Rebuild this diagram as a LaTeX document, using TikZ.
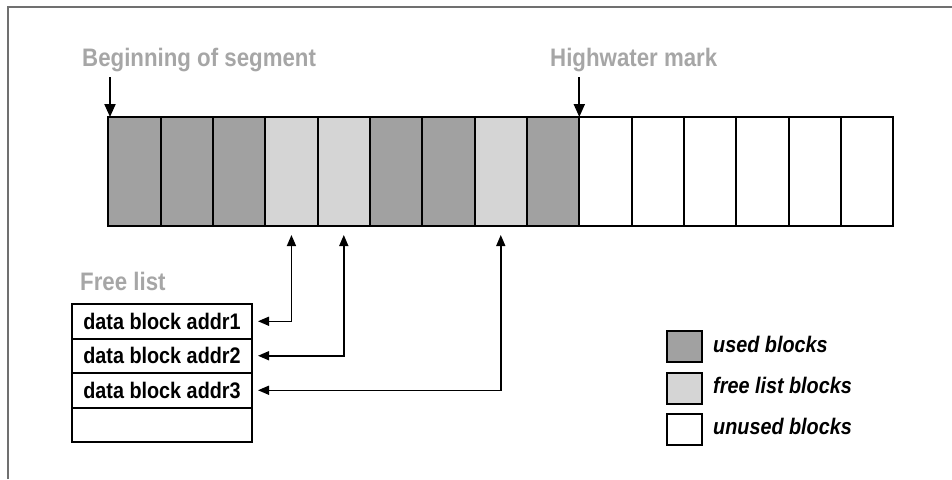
\documentclass[tikz,border=0pt]{standalone}
\usepackage{fontspec}
\usetikzlibrary{arrows.meta}
\newfontfamily\cond{Liberation Sans}[FakeStretch=0.88]
\definecolor{usedgray}{HTML}{A1A1A1}
\definecolor{freegray}{HTML}{D5D5D5}
\definecolor{labelgray}{HTML}{A6A6A6}
\definecolor{framegray}{HTML}{707070}
\begin{document}
\begin{tikzpicture}[x=1pt,y=-1pt,
  blk/.style={draw=black, line width=2pt, minimum width=52.33pt, minimum height=109pt,
    inner sep=0pt, outer sep=0pt, anchor=north west},
  used/.style={blk, fill=usedgray},
  freeb/.style={blk, fill=freegray},
  unused/.style={blk, fill=white},
  heading/.style={anchor=base west, inner sep=0pt, text=labelgray,
    font=\cond\bfseries\fontsize{25.3}{28}\selectfont},
  listrow/.style={draw=black, line width=2pt, minimum width=180pt, minimum height=34.5pt,
    inner sep=0pt, outer sep=0pt, anchor=north west,
    font=\cond\bfseries\fontsize{22.5}{25}\selectfont},
  keybox/.style={draw=black, line width=2pt, minimum width=35pt, minimum height=31pt,
    inner sep=0pt, outer sep=0pt, anchor=north west},
  keytext/.style={anchor=base west, inner sep=0pt,
    font=\cond\bfseries\itshape\fontsize{22.5}{25}\selectfont},
  marker/.style={line width=2pt, -{Triangle[length=13pt,width=11pt]}},
  link/.style={line width=1.5pt, {Triangle[length=11pt,width=9pt]}-{Triangle[length=11pt,width=9pt]}}
]
\useasboundingbox (0,0) rectangle (952,479);

% frame
\draw[framegray, line width=1.5pt] (8,479) -- (8,7) -- (952,7);

% segment blocks
\foreach \t [count=\i] in {used,used,used,freeb,freeb,used,used,freeb,used,
                          unused,unused,unused,unused,unused,unused}
  \node[\t] (b\i) at ({108.3+(\i-1)*52.33},117) {};

% headings and markers
\node[heading] (begin) at (82,66) {Beginning of segment};
\node[heading] (hwm) at (550,66) {Highwater mark};
\coordinate (segtop) at (110,77);
\coordinate (hwtop) at (579.3,77);
\draw[marker] (segtop) -- (segtop |- b1.north west);
\draw[marker] (hwtop) -- (hwtop |- b10.north west);

% free list
\node[heading] (fl) at (80,290) {Free list};
\node[listrow] (r1) at (72,304)   {data block addr1};
\node[listrow] (r2) at (72,338.5) {data block addr2};
\node[listrow] (r3) at (72,373)   {data block addr3};
\node[listrow] (r4) at (72,407.5) {};

% free list pointers
\draw[link] ([xshift=6pt]r1.east) -| ([yshift=-9pt]b4.south);
\draw[link] ([xshift=6pt]r2.east) -| ([yshift=-9pt]b5.south);
\draw[link] ([xshift=6pt]r3.east) -| ([yshift=-9pt]b8.south);

% key
\node[keybox, fill=usedgray] (k1) at (667,331) {};
\node[keybox, fill=freegray] (k2) at (667,372.5) {};
\node[keybox, fill=white]    (k3) at (667,414) {};
\node[keytext] (t1) at (713,352) {used blocks};
\node[keytext] (t2) at (713,393) {free list blocks};
\node[keytext] (t3) at (713,434) {unused blocks};
\end{tikzpicture}
\end{document}
